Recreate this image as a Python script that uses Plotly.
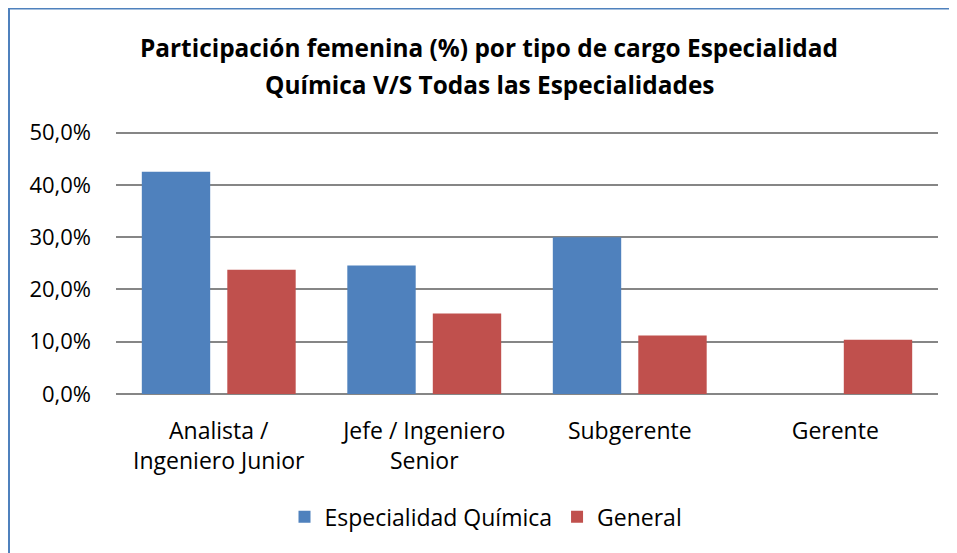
import plotly.graph_objects as go

categories = ["Analista /<br>Ingeniero Junior", "Jefe / Ingeniero<br>Senior", "Subgerente", "Gerente"]
quimica = [0.425, 0.246, 0.300, 0.0]
general = [0.2375, 0.154, 0.112, 0.104]
series_names = ["Especialidad Química", "General"]
colors = ["#4F81BD", "#C0504D"]
yticks = [0, 0.1, 0.2, 0.3, 0.4, 0.5]
title_lines = ["Participación femenina (%) por tipo de cargo Especialidad",
               "Química V/S Todas las Especialidades"]

FONT = "Open Sans"
OFF = 8  # default page body margin
YMAX = 0.505  # a little headroom so the 50% gridline is drawn

fig = go.Figure()
fig.add_trace(go.Bar(x=categories, y=quimica, name=series_names[0],
                     marker=dict(color=colors[0], line=dict(width=0))))
fig.add_trace(go.Bar(x=categories, y=general, name=series_names[1],
                     marker=dict(color=colors[1], line=dict(width=0))))

W, H = 957 - OFF, 553 - OFF
top50, bottom0 = 133, 394.3
extra = (bottom0 - top50) * (YMAX - 0.5) / 0.5
L, R, T, B = 116 - OFF, 957 - 938, top50 - extra - OFF, 553 - bottom0
pw = W - L - R
ph = H - T - B


def px_x(x):
    # x given in reference-screenshot pixels
    return (x - OFF - L) / pw


def px_y(y):
    return (H - B - (y - OFF)) / ph


annotations = []
for line, yc in zip(title_lines, [48, 85]):
    annotations.append(dict(
        text="<b>" + line + "</b>", xref="paper", yref="paper",
        x=px_x(489), y=px_y(yc), xanchor="center", yanchor="middle",
        showarrow=False, font=dict(family=FONT, size=24.4, color="black")))

fig.update_layout(
    width=W, height=H,
    margin=dict(l=L, r=R, t=T, b=B, pad=0),
    paper_bgcolor="white", plot_bgcolor="white",
    separators=",.",
    barmode="group", bargap=0.168, bargroupgap=0.2,
    font=dict(family=FONT, size=23, color="black"),
    annotations=annotations,
    xaxis=dict(showgrid=False, showline=False, ticks="", ticklabelstandoff=21,
               tickfont=dict(size=23, color="black")),
    yaxis=dict(range=[0, YMAX], tickvals=yticks, tickformat=".1%",
               showgrid=True, gridcolor="#868686", gridwidth=1.5,
               zeroline=True, zerolinecolor="#868686", zerolinewidth=1.5,
               showline=False, ticks="", ticklabelstandoff=24,
               tickfont=dict(size=22, color="black")),
    legend=dict(orientation="h", x=px_x(486), xanchor="center", y=px_y(517), yanchor="middle",
                font=dict(size=23, color="black"), itemwidth=30, traceorder="normal"),
    shapes=[dict(type="rect", xref="paper", yref="paper",
                 x0=px_x(9), x1=px_x(975), y0=px_y(575), y1=px_y(9),
                 line=dict(color="#4F81BD", width=2), fillcolor="rgba(0,0,0,0)", layer="below")],
)

fig.write_html("out.html")
